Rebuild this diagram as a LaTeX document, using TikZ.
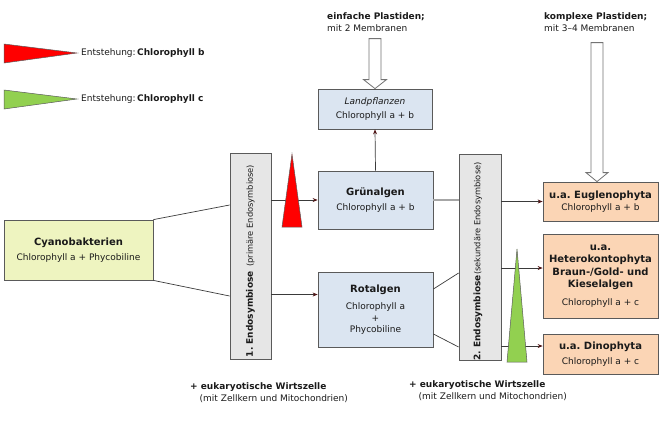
\documentclass[tikz,border=0pt]{standalone}
\usepackage{fontspec}
\setmainfont{DejaVu Sans}
\usetikzlibrary{arrows.meta}
\frenchspacing
\definecolor{cyanofill}{HTML}{EEF4C0}
\definecolor{algfill}{HTML}{DBE5F1}
\definecolor{plastfill}{HTML}{FBD5B5}
\definecolor{endofill}{HTML}{E6E6E6}
\definecolor{boxline}{HTML}{5A5A5A}
\definecolor{linecol}{HTML}{3A3A3A}
\definecolor{tipcol}{HTML}{501616}
\definecolor{txt}{HTML}{1A1A1A}
\definecolor{chlb}{HTML}{FF0000}
\definecolor{chlc}{HTML}{92D050}
\newcommand{\ttl}[1]{{\fontsize{10}{12}\selectfont\bfseries #1}}
\newcommand{\smalltxt}{\fontsize{8.3}{10}\selectfont}
\begin{document}
\begin{tikzpicture}[x=1pt,y=-1pt,
    every node/.style={text=txt, font=\fontsize{9}{11.5}\selectfont},
    box/.style={draw=boxline, line width=0.8pt, align=center, inner sep=0pt},
    conn/.style={draw=linecol, line width=0.7pt},
    arr/.style={conn, -{Stealth[length=5pt,width=4pt,color=tipcol]}},
    tri/.style={draw=boxline, line width=0.5pt},
    hollow/.style={draw=black!55, fill=white, line width=0.8pt},
    label/.style={anchor=west, align=left, inner sep=0pt}]
    \useasboundingbox (0,0) rectangle (660,421);

    % Legend
    \draw[tri, fill=chlb] (4,44) -- (77,53) -- (4,63) -- cycle;
    \node[label] (legb) at (81,53) {Entstehung:\,\textbf{Chlorophyll b}};
    \draw[tri, fill=chlc] (4,90) -- (77,99) -- (4,109) -- cycle;
    \node[label] (legc) at (81,99) {Entstehung:\,\textbf{Chlorophyll c}};

    % Boxes
    \node[box, fill=cyanofill, minimum width=149pt, minimum height=60pt] (cyano) at (78.5,250)
        {\ttl{Cyanobakterien}\\[3pt]Chlorophyll a + Phycobiline};
    \node[box, fill=endofill, minimum width=41pt, minimum height=206pt] (endoI) at (250.5,256) {};
    \node[rotate=90, inner sep=0pt] (endoIlab) at ([yshift=-5pt]endoI.center)
        {\textbf{1. Endosymbiose}\enspace{\smalltxt(primäre Endosymbiose)}};
    \node[box, fill=algfill, minimum width=114pt, minimum height=40pt] (land) at (375,109)
        {\textit{Landpflanzen}\\[2.5pt]Chlorophyll a + b};
    \node[box, fill=algfill, minimum width=115pt, minimum height=58pt] (gruen) at (375.5,200)
        {\ttl{Grünalgen}\\[4pt]Chlorophyll a + b};
    \node[box, fill=algfill, minimum width=115pt, minimum height=75pt] (rot) at (375.5,309.5)
        {\ttl{Rotalgen}\\[6pt]Chlorophyll a\\+\\Phycobiline};
    \node[box, fill=endofill, minimum width=42pt, minimum height=206pt] (endoII) at (480,257) {};
    \node[rotate=90, inner sep=0pt] (endoIIlab) at ([yshift=-4.5pt,xshift=-2pt]endoII.center)
        {\textbf{2. Endosymbiose}{\smalltxt(sekundäre Endosymbiose)}};
    \node[box, fill=plastfill, minimum width=115pt, minimum height=39pt] (eugl) at (600.5,201.5)
        {\ttl{u.a. Euglenophyta}\\[1pt]Chlorophyll a + b};
    \node[box, fill=plastfill, minimum width=115pt, minimum height=84pt] (hetero) at (600.5,276)
        {\ttl{u.a.}\\[0.8pt]\ttl{Heterokontophyta}\\[0.8pt]\ttl{Braun-/Gold- und}\\[0.8pt]\ttl{Kieselalgen}\\[6.5pt]Chlorophyll a + c};
    \node[box, fill=plastfill, minimum width=115pt, minimum height=40pt] (dino) at (600.5,354)
        {\ttl{u.a. Dinophyta}\\[4pt]Chlorophyll a + c};

    % Headers and notes
    \node[label] (simplehdr) at (327,22) {\textbf{einfache Plastiden;}\\mit 2 Membranen};
    \node[label] (complexhdr) at (544,22) {\textbf{komplexe Plastiden;}\\mit 3–4 Membranen};
    \node[label] (hostI) at (190,392.5) {\textbf{+ eukaryotische Wirtszelle}\\\hspace*{9.5pt}(mit Zellkern und Mitochondrien)};
    \node[label] (hostII) at (409,390.5) {\textbf{+ eukaryotische Wirtszelle}\\\hspace*{9.5pt}(mit Zellkern und Mitochondrien)};

    % Hollow arrows
    \draw[hollow, shift={(land.north)}] (-6,-50) -- (6,-50) -- (6,-9) -- (11.5,-9) -- (0,0)
        -- (-11.5,-9) -- (-6,-9) -- cycle;
    \draw[hollow, shift={([xshift=-3.5pt]eugl.north)}] (-6,-139) -- (6,-139) -- (6,-9) -- (11,-9) -- (0,0)
        -- (-11,-9) -- (-6,-9) -- cycle;

    % Connectors
    \coordinate (rotin) at ([yshift=15pt]rot.west);
    \coordinate (heteroin) at ([yshift=8pt]hetero.west);
    \coordinate (dinoin) at ([yshift=8pt]dino.west);
    \draw[conn] (cyano.north east) -- ([yshift=51pt]endoI.west);
    \draw[conn] (cyano.south east) -- ([yshift=-40pt]endoI.west);
    \draw[arr] (endoI.east |- gruen.west) -- (gruen.west);
    \draw[arr] (endoI.east |- rotin) -- (rotin);
    \draw[arr] (gruen.north) -- (land.south);
    \draw[draw=black!35, line width=2pt] (gruen.east) -- (gruen.east -| endoII.west);
    \draw[conn] ([yshift=20.5pt]rot.east) -- ([yshift=-16pt]endoII.west);
    \draw[conn] ([yshift=-24.5pt]rot.east) -- ([yshift=-90pt]endoII.west);
    \draw[arr] (endoII.east |- eugl.west) -- (eugl.west);
    \draw[arr] (endoII.east |- heteroin) -- (heteroin);
    \draw[arr] (endoII.east |- dinoin) -- (dinoin);

    % Triangles over the arrows
    \draw[tri, fill=chlb] (292,154) -- (302,227) -- (282,227) -- cycle;
    \draw[tri, fill=chlc] (517,249) -- (527,362) -- (507,362) -- cycle;
\end{tikzpicture}
\end{document}
